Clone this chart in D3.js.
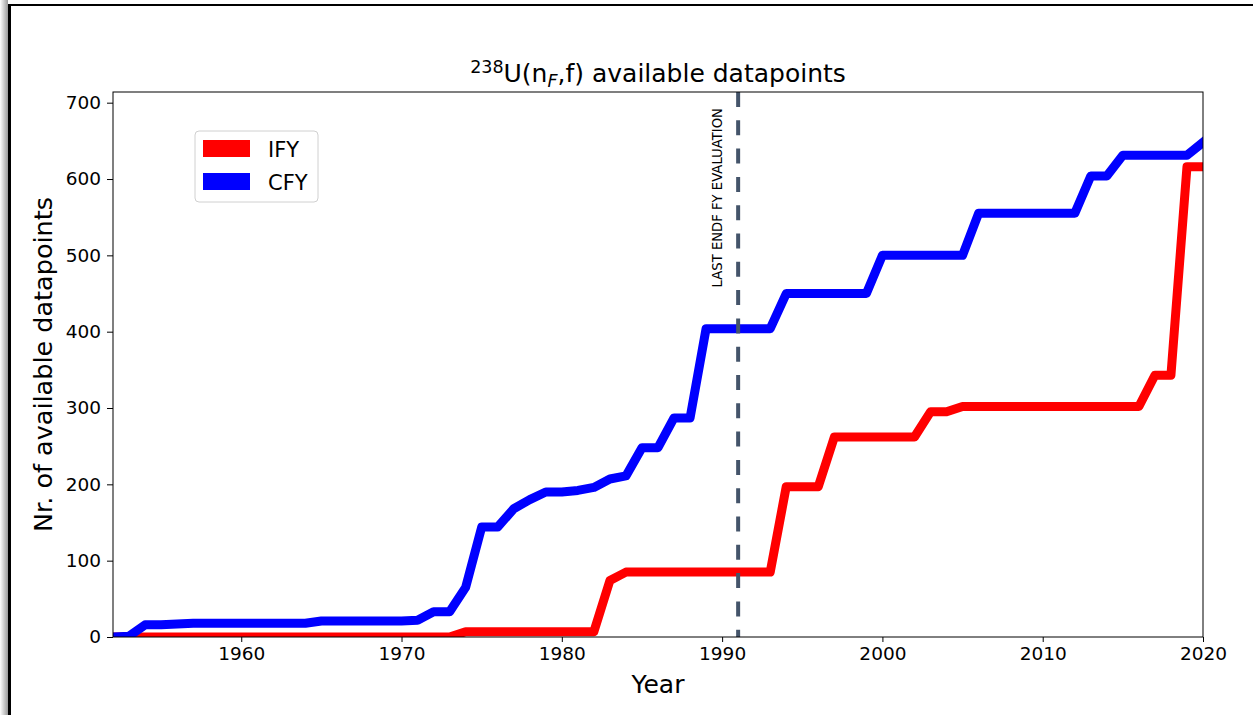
<!DOCTYPE html>
<html>
<head>
<meta charset="utf-8">
<script src="https://cdn.jsdelivr.net/npm/d3@7"></script>
<style>
body { margin: 0; background: #fff; }
svg { display: block; font-family: "DejaVu Sans", sans-serif; }
</style>
</head>
<body>
<div id="chart"></div>
<script>
// years on the x axis
var years = [1952,1953,1954,1955,1956,1957,1958,1959,1960,1961,1962,1963,1964,1965,1966,1967,1968,1969,
	1970,1971,1972,1973,1974,1975,1976,1977,1978,1979,1980,1981,1982,1983,1984,1985,1986,1987,1988,1989,
	1990,1991,1992,1993,1994,1995,1996,1997,1998,1999,2000,2001,2002,2003,2004,2005,2006,2007,2008,2009,
	2010,2011,2012,2013,2014,2015,2016,2017,2018,2019,2020];

// independent fission yields
var ify = [0,0,0,0,0,0,0,0,0,0,0,0,0,0,0,0,0,0,
	0,0,0,0,7,7,7,7,7,7,7,7,7,74,85,85,85,85,85,85,
	85,85,85,85,197,197,197,262,262,262,262,262,262,295,295,302,302,302,302,302,
	302,302,302,302,302,302,302,343,343,616,616];

// cumulative fission yields
var cfy = [0,1,16,16,17,18,18,18,18,18,18,18,18,21,21,21,21,21,
	21,22,33,33,65,144,144,168,180,190,190,192,196,207,211,248,248,287,287,404,
	404,404,404,404,450,450,450,450,450,450,500,500,500,500,500,500,555,555,555,555,
	555,555,555,604,604,631,631,631,631,631,648];

var xTicks = [1960, 1970, 1980, 1990, 2000, 2010, 2020];
var yTicks = [0, 100, 200, 300, 400, 500, 600, 700];
var lastEval = 1991;

var series = [
	{name: "IFY", values: ify, color: "#ff0000"},
	{name: "CFY", values: cfy, color: "#0000ff"}
];

var W = 1253, H = 715;
var margin = {top: 92, right: 50, bottom: 78, left: 113};
var width = W - margin.left - margin.right;
var height = H - margin.top - margin.bottom;

var svg = d3.select("#chart").append("svg")
	.attr("width", W)
	.attr("height", H);

// screenshot frame
var shade = svg.append("defs").append("linearGradient")
	.attr("id", "shade").attr("x1", 0).attr("x2", 1);
shade.append("stop").attr("offset", 0).attr("stop-color", "#ffffff");
shade.append("stop").attr("offset", 1).attr("stop-color", "#9a9a9a");
svg.select("defs").append("clipPath").attr("id", "plotclip")
	.append("rect").attr("width", width).attr("height", height);

svg.append("rect").attr("x", 0).attr("y", 0).attr("width", 8).attr("height", H).attr("fill", "url(#shade)");
svg.append("line").attr("x1", 9.5).attr("x2", 9.5).attr("y1", 4).attr("y2", H)
	.attr("stroke", "#000").attr("stroke-width", 3);
svg.append("line").attr("x1", 8).attr("x2", W).attr("y1", 5).attr("y2", 5)
	.attr("stroke", "#000").attr("stroke-width", 2);

var g = svg.append("g").attr("transform", "translate(" + margin.left + "," + margin.top + ")");

var x = d3.scaleLinear().domain([1952, 2020]).range([0, width]);
var y = d3.scaleLinear().domain([0, 714]).range([height, 0]);

var line = d3.line()
	.x(function(d, i) { return x(years[i]); })
	.y(function(d) { return y(d); });

var plot = g.append("g").attr("clip-path", "url(#plotclip)");

series.forEach(function(s) {
	plot.append("path")
		.attr("d", line(s.values))
		.attr("fill", "none")
		.attr("stroke", s.color)
		.attr("stroke-width", 9)
		.attr("stroke-linejoin", "round")
		.attr("stroke-linecap", "square");
});

// last evaluation marker
g.append("line")
	.attr("x1", x(lastEval)).attr("x2", x(lastEval))
	.attr("y1", 0).attr("y2", height)
	.attr("stroke", "#44546a")
	.attr("stroke-width", 4)
	.attr("stroke-dasharray", "15,13.3");

g.append("text")
	.attr("transform", "translate(" + (x(lastEval) - 16) + "," + (y(458)) + ") rotate(-90)")
	.attr("font-size", 13.2)
	.attr("fill", "#000")
	.text("LAST ENDF FY EVALUATION");

// axes
var xAxis = g.append("g")
	.attr("transform", "translate(0," + height + ")")
	.call(d3.axisBottom(x).tickValues(xTicks).tickFormat(d3.format("d")).tickSizeOuter(0).tickSize(5).tickPadding(5));
var yAxis = g.append("g")
	.call(d3.axisLeft(y).tickValues(yTicks).tickSizeOuter(0).tickSize(6).tickPadding(6));

[xAxis, yAxis].forEach(function(a) {
	a.select(".domain").remove();
	a.selectAll("text").attr("font-size", 18.5).attr("font-family", "DejaVu Sans").attr("fill", "#000");
	a.selectAll("line").attr("stroke", "#000").attr("stroke-width", 1);
});

g.append("rect")
	.attr("x", 0).attr("y", 0)
	.attr("width", width).attr("height", height)
	.attr("fill", "none").attr("stroke", "#000").attr("stroke-width", 1);

// labels
g.append("text")
	.attr("x", width / 2).attr("y", height + 56)
	.attr("text-anchor", "middle")
	.attr("font-size", 25)
	.text("Year");

g.append("text")
	.attr("transform", "translate(-61," + (height / 2) + ") rotate(-90)")
	.attr("text-anchor", "middle")
	.attr("font-size", 25.5)
	.text("Nr. of available datapoints");

var title = svg.append("text")
	.attr("x", margin.left + width / 2).attr("y", 82)
	.attr("text-anchor", "middle")
	.attr("font-size", 25);
title.append("tspan").attr("font-size", 17.5).attr("dy", -9).text("238");
title.append("tspan").attr("dy", 9).text("U(n");
title.append("tspan").attr("font-size", 17.5).attr("font-style", "italic").attr("dy", 5).text("F");
title.append("tspan").attr("dy", -5).text(",f) available datapoints");

// legend
var legend = g.append("g").attr("transform", "translate(82,39)");
legend.append("rect")
	.attr("width", 123).attr("height", 71).attr("rx", 4)
	.attr("fill", "#fff").attr("stroke", "#d0d0d0").attr("stroke-width", 1);
series.forEach(function(s, i) {
	legend.append("rect")
		.attr("x", 8).attr("y", 9 + i * 33)
		.attr("width", 47).attr("height", 17)
		.attr("fill", s.color);
	legend.append("text")
		.attr("x", 73).attr("y", 26 + i * 32.5)
		.attr("font-size", 21)
		.text(s.name);
});
</script>
</body>
</html>
